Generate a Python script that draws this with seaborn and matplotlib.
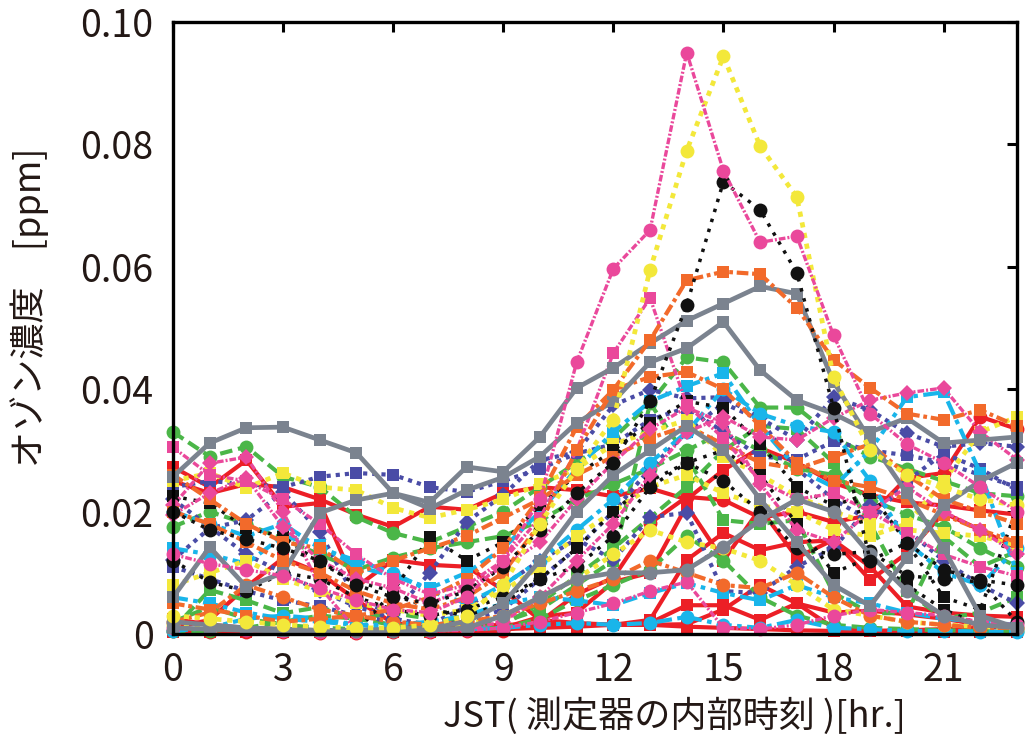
import numpy as np
import matplotlib
matplotlib.use("Agg")
import matplotlib.pyplot as plt
import seaborn as sns

# Hourly ozone readings (ppb) for each day, hour 0..23 JST
HOURS = np.arange(24)

red_sq1 = [27.3, 24.0, 28.4, 20.8, 21.4, 7.7, 12.1, 11.3, 11.0, 7.2, 2.3, 1.8, 1.5, 1.5, 1.2, 1.0, 0.8, 0.6, 0.5, 0.5, 0.6, 0.8, 1.0, 1.2]
red_sq2 = [25.0, 23.0, 24.5, 24.0, 22.0, 19.5, 17.5, 20.8, 20.3, 23.0, 24.0, 23.5, 22.5, 23.8, 22.0, 26.8, 30.4, 28.0, 24.7, 22.7, 21.5, 21.0, 20.2, 19.5]
red_sq3 = [1.0, 2.3, 7.7, 12.4, 10.0, 5.5, 1.8, 1.0, 1.2, 1.5, 1.5, 1.5, 1.5, 2.3, 12.1, 16.5, 13.7, 15.0, 15.3, 11.0, 4.5, 3.5, 3.0, 2.8]
red_ci1 = [0.5, 0.4, 0.3, 0.3, 0.2, 0.2, 0.3, 0.4, 0.5, 0.5, 2.0, 6.5, 9.2, 18.1, 22.4, 21.9, 19.0, 20.0, 18.3, 19.4, 25.5, 26.3, 35.5, 33.5]
red_sq4 = [0.3, 0.3, 0.4, 0.4, 0.3, 0.3, 0.3, 0.3, 1.0, 1.5, 1.5, 1.5, 1.5, 1.8, 4.7, 4.7, 2.3, 5.0, 1.0, 0.5, 0.5, 0.4, 0.3, 0.3]
red_sq5 = [2.5, 1.5, 1.0, 0.8, 0.6, 0.5, 0.5, 0.6, 0.8, 1.0, 2.8, 3.5, 8.5, 10.0, 21.0, 12.0, 20.5, 12.5, 15.4, 8.8, 13.2, 19.8, 17.0, 14.0]
red_sq6 = [0.5, 0.5, 0.5, 0.5, 0.4, 0.4, 0.4, 0.5, 0.6, 0.8, 1.0, 1.2, 1.5, 1.5, 1.6, 4.0, 8.0, 5.0, 3.5, 3.8, 3.2, 2.5, 1.5, 0.8]

grn_ci1 = [33.0, 29.0, 30.6, 25.7, 24.0, 19.1, 16.5, 15.0, 17.5, 20.0, 24.0, 28.0, 32.0, 37.7, 45.2, 44.4, 37.0, 37.0, 32.2, 29.0, 27.0, 25.0, 23.0, 22.5]
grn_ci2 = [17.5, 20.0, 18.0, 15.5, 13.0, 10.5, 12.5, 14.0, 15.0, 16.0, 18.5, 22.0, 24.5, 27.0, 30.0, 33.0, 30.0, 27.0, 26.0, 22.0, 19.5, 17.5, 14.0, 11.0]
grn_sq1 = [0.8, 7.2, 5.5, 3.4, 4.4, 2.5, 3.4, 2.5, 1.8, 2.0, 4.0, 8.0, 12.0, 37.7, 29.0, 18.6, 18.0, 18.6, 6.7, 3.4, 3.4, 15.9, 11.0, 13.5]
grn_sq2 = [2.0, 4.4, 2.5, 1.5, 1.0, 0.8, 0.6, 0.5, 0.8, 1.5, 5.0, 9.5, 14.0, 19.0, 24.0, 30.0, 34.0, 33.5, 28.0, 18.0, 7.0, 2.5, 3.5, 6.0]
grn_ci3 = [0.5, 0.5, 1.0, 2.0, 3.0, 2.5, 1.5, 1.0, 0.8, 1.0, 2.5, 5.5, 8.0, 10.5, 16.0, 12.0, 6.0, 3.0, 1.5, 1.0, 0.8, 0.6, 0.5, 0.5]

blu_sq1 = [24.0, 25.0, 24.5, 24.0, 25.7, 26.3, 26.0, 24.0, 23.2, 25.0, 27.0, 29.5, 31.0, 35.0, 37.0, 33.0, 29.0, 28.5, 31.5, 30.0, 29.2, 28.0, 26.0, 24.0]
blu_di1 = [12.1, 17.3, 18.6, 23.2, 16.7, 5.5, 3.4, 10.0, 18.3, 22.7, 28.4, 29.7, 37.4, 39.9, 38.5, 38.7, 35.3, 31.7, 38.7, 36.6, 32.8, 30.6, 31.2, 30.6]
blu_di2 = [22.0, 17.5, 13.0, 10.0, 7.0, 4.5, 2.5, 1.5, 4.5, 8.0, 12.0, 15.5, 12.1, 19.1, 19.8, 7.0, 6.7, 11.0, 14.0, 21.0, 17.0, 12.0, 8.0, 5.0]
blu_sq2 = [11.0, 9.0, 7.0, 5.5, 4.5, 3.0, 2.0, 1.5, 2.0, 4.0, 9.0, 14.0, 20.0, 27.0, 33.0, 37.7, 35.0, 27.0, 22.0, 18.5, 25.0, 29.5, 27.0, 23.5]

mag_ci1 = [13.0, 11.5, 10.5, 9.5, 7.5, 5.5, 4.0, 3.5, 6.0, 12.0, 22.0, 44.4, 59.7, 66.0, 95.0, 75.7, 64.0, 65.0, 48.8, 36.0, 31.0, 28.0, 24.0, 20.0]
mag_sq1 = [30.5, 26.0, 25.0, 22.0, 18.0, 13.0, 9.0, 6.5, 8.0, 12.0, 19.0, 30.0, 45.9, 54.9, 37.4, 32.0, 25.0, 22.0, 23.0, 20.0, 16.5, 13.0, 11.0, 9.5]
mag_di1 = [21.0, 27.9, 28.9, 20.0, 7.7, 0.6, 0.6, 0.5, 0.8, 2.0, 6.0, 12.0, 18.0, 26.0, 33.0, 35.5, 32.2, 31.7, 35.3, 38.2, 39.4, 40.2, 33.0, 28.5]
mag_di2 = [19.5, 23.0, 25.5, 17.5, 12.0, 9.0, 7.5, 5.0, 7.5, 11.0, 15.0, 22.0, 28.0, 33.5, 37.0, 34.5, 24.5, 17.0, 15.0, 20.0, 24.0, 20.0, 17.0, 13.0]
mag_ci2 = [1.0, 0.8, 0.6, 0.5, 0.4, 0.4, 0.5, 0.5, 0.6, 1.0, 2.0, 3.5, 5.0, 7.0, 8.5, 1.0, 0.8, 1.5, 3.0, 4.0, 3.5, 3.0, 2.0, 1.5]

cya_sq1 = [14.0, 13.0, 11.5, 16.0, 14.5, 11.0, 9.5, 7.5, 10.0, 14.0, 20.0, 27.0, 33.0, 38.0, 40.5, 42.6, 34.0, 27.0, 24.0, 30.0, 38.7, 39.5, 26.3, 10.0]
cya_ci1 = [0.5, 1.0, 2.5, 3.0, 2.5, 1.5, 1.0, 0.8, 0.8, 1.0, 1.5, 1.8, 1.5, 1.8, 2.8, 1.5, 1.0, 2.3, 1.0, 0.8, 0.5, 0.5, 0.4, 0.4]
cya_sq2 = [6.0, 5.0, 3.5, 2.5, 2.0, 1.5, 1.5, 2.0, 3.0, 5.0, 6.0, 5.5, 4.7, 6.7, 8.3, 6.7, 5.5, 8.0, 6.0, 5.0, 3.5, 2.5, 2.0, 1.5]
cya_ci2 = [20.0, 18.0, 16.0, 18.0, 14.0, 12.0, 10.0, 7.0, 5.0, 8.0, 12.0, 17.0, 22.0, 28.0, 33.0, 40.0, 36.0, 34.0, 33.0, 25.0, 15.0, 10.0, 8.0, 14.0]

yel_ci1 = [3.0, 2.5, 2.0, 1.5, 1.2, 1.0, 1.0, 1.5, 3.0, 8.0, 18.0, 27.0, 35.0, 59.5, 79.0, 94.4, 79.7, 71.4, 42.0, 30.0, 26.0, 24.0, 22.0, 21.0]
yel_sq1 = [25.0, 26.3, 23.9, 26.3, 24.0, 23.5, 20.6, 19.0, 20.3, 22.0, 24.5, 27.0, 31.0, 33.0, 35.0, 29.0, 26.0, 22.5, 20.0, 18.0, 17.0, 16.5, 16.0, 14.5]
yel_sq2 = [8.0, 10.0, 12.0, 9.0, 7.0, 5.0, 4.0, 3.0, 4.0, 7.0, 11.0, 16.0, 20.0, 24.0, 26.0, 23.0, 21.0, 20.0, 17.0, 16.0, 18.0, 25.0, 33.0, 35.5]
yel_ci2 = [1.5, 1.0, 0.8, 0.6, 0.5, 0.5, 0.6, 0.8, 1.5, 3.0, 6.0, 9.0, 13.0, 17.0, 15.0, 14.0, 12.0, 8.0, 4.0, 3.0, 2.0, 1.5, 1.2, 1.0]

blk_ci1 = [20.0, 17.0, 15.5, 14.0, 12.0, 8.0, 6.0, 5.0, 7.0, 11.0, 17.0, 23.0, 28.0, 38.0, 53.8, 73.9, 69.3, 59.0, 37.0, 12.0, 14.9, 10.5, 8.8, 8.0]
blk_sq1 = [22.5, 21.4, 17.3, 15.9, 11.6, 8.5, 7.0, 15.9, 12.0, 15.0, 21.0, 26.0, 30.0, 34.5, 38.0, 37.0, 31.0, 24.0, 21.0, 23.0, 14.9, 6.0, 4.0, 20.6]
blk_sq2 = [2.0, 1.5, 1.0, 0.8, 0.6, 0.5, 6.9, 4.0, 3.0, 5.0, 9.0, 14.0, 20.0, 25.0, 28.0, 30.0, 26.0, 18.0, 10.0, 12.5, 8.0, 4.0, 1.5, 1.0]
blk_ci2 = [12.0, 8.5, 7.0, 10.0, 9.0, 6.0, 4.0, 3.0, 4.0, 6.0, 9.0, 11.0, 16.0, 24.0, 28.0, 25.0, 20.0, 14.0, 13.0, 13.5, 9.5, 9.0, 8.5, 2.0]

orn_sq1 = [20.0, 18.0, 15.0, 12.0, 10.0, 7.0, 5.0, 4.0, 6.0, 10.0, 18.0, 30.0, 39.9, 48.0, 57.8, 59.2, 58.8, 53.3, 44.8, 40.2, 36.0, 35.0, 36.6, 34.0]
orn_sq2 = [5.0, 4.0, 3.0, 2.0, 2.5, 3.0, 4.0, 6.0, 9.0, 14.0, 22.4, 33.8, 39.9, 42.0, 42.8, 40.0, 34.0, 28.0, 25.0, 24.0, 22.0, 19.5, 17.0, 15.0]
orn_ci1 = [2.0, 3.5, 8.0, 6.0, 4.0, 3.0, 2.0, 1.5, 2.0, 3.0, 5.0, 7.0, 9.0, 12.0, 10.0, 8.0, 7.5, 10.0, 6.0, 3.0, 2.0, 1.5, 1.0, 1.0]
orn_sq3 = [26.0, 22.0, 18.0, 15.0, 14.0, 10.0, 12.0, 14.0, 16.0, 19.0, 22.0, 26.0, 29.0, 32.0, 34.0, 31.0, 28.0, 27.0, 29.0, 31.0, 26.0, 22.0, 20.0, 18.0]

gry_sq1 = [25.7, 31.2, 33.7, 33.8, 31.7, 29.6, 23.0, 21.5, 27.3, 26.5, 32.2, 40.2, 43.5, 47.5, 51.2, 54.0, 56.8, 55.6, 41.2, 31.7, 23.0, 14.0, 3.0, 1.0]
gry_sq2 = [6.0, 14.2, 7.7, 10.0, 19.8, 21.9, 23.0, 20.5, 23.5, 25.6, 29.0, 34.5, 38.0, 44.4, 46.7, 51.0, 43.1, 38.2, 36.0, 33.0, 35.3, 31.2, 31.7, 32.2]
gry_ci1 = [2.0, 1.5, 1.0, 0.8, 0.6, 0.5, 0.5, 0.6, 1.0, 3.0, 6.0, 9.0, 10.0, 10.0, 10.5, 14.2, 18.6, 22.0, 20.0, 13.0, 7.0, 3.0, 1.5, 1.0]
gry_sq3 = [1.0, 0.8, 0.6, 0.5, 0.5, 0.6, 0.8, 1.0, 2.0, 5.0, 12.0, 20.0, 26.0, 30.0, 34.0, 30.0, 22.0, 15.0, 8.0, 4.6, 12.5, 21.0, 25.0, 28.0]

Y_TICKS = [0.0, 0.02, 0.04, 0.06, 0.08, 0.10]
Y_TICK_LABELS = ["0", "0.02", "0.04", "0.06", "0.08", "0.10"]
X_TICKS = [0, 3, 6, 9, 12, 15, 18, 21]

# line appearance for each colour family
FAMILIES = {
    "red":     dict(color="#ec1f26", ls="-", lw=3.0),
    "green":   dict(color="#4bb648", ls=(0, (3.0, 1.4)), lw=3.0),
    "blue":    dict(color="#4a4ca6", ls=(0, (1.0, 1.2)), lw=3.0),
    "magenta": dict(color="#ea489b", ls=(0, (2.0, 0.6, 0.6, 0.6)), lw=2.4),
    "cyan":    dict(color="#19b5ea", ls=(0, (3.6, 1.3, 1.1, 1.3)), lw=3.0),
    "yellow":  dict(color="#f3e83a", ls=(0, (1.1, 1.2)), lw=3.4),
    "black":   dict(color="#111111", ls=(0, (1.0, 2.0)), lw=2.5),
    "orange":  dict(color="#f26a2b", ls=(0, (2.8, 0.9, 0.9, 0.9)), lw=3.0),
    "gray":    dict(color="#7b838f", ls="-", lw=3.4),
}

SERIES = [
    (red_sq1, "red", "s"), (red_sq2, "red", "s"), (red_sq3, "red", "s"),
    (red_ci1, "red", "o"), (red_sq4, "red", "s"), (red_sq5, "red", "s"), (red_sq6, "red", "s"),
    (grn_ci1, "green", "o"), (grn_ci2, "green", "o"), (grn_sq1, "green", "s"),
    (grn_sq2, "green", "s"), (grn_ci3, "green", "o"),
    (blu_sq1, "blue", "s"), (blu_di1, "blue", "D"), (blu_di2, "blue", "D"), (blu_sq2, "blue", "s"),
    (cya_sq1, "cyan", "s"), (cya_ci1, "cyan", "o"), (cya_sq2, "cyan", "s"), (cya_ci2, "cyan", "o"),
    (yel_sq1, "yellow", "s"), (yel_sq2, "yellow", "s"), (yel_ci2, "yellow", "o"),
    (blk_sq1, "black", "s"), (blk_sq2, "black", "s"), (blk_ci2, "black", "o"),
    (orn_sq2, "orange", "s"), (orn_ci1, "orange", "o"), (orn_sq3, "orange", "s"),
    (mag_sq1, "magenta", "s"), (mag_di1, "magenta", "D"), (mag_di2, "magenta", "D"), (mag_ci2, "magenta", "o"),
    (gry_ci1, "gray", "o"), (gry_sq3, "gray", "s"), (gry_sq2, "gray", "s"), (gry_sq1, "gray", "s"),
    (orn_sq1, "orange", "s"), (blk_ci1, "black", "o"), (yel_ci1, "yellow", "o"), (mag_ci1, "magenta", "o"),
]

MARKER_SIZE = {"o": 10.0, "s": 9.0, "D": 8.5}
TEXT_COLOR = "#231815"

sns.set_theme(style="white")
plt.rcParams["font.family"] = ["Noto Sans CJK JP", "DejaVu Sans"]

fig = plt.figure(figsize=(10.25, 7.45), dpi=100)
ax = fig.add_axes([173 / 1025, 1 - 634 / 745, (1017 - 173) / 1025, (634 - 22) / 745])

for values, family, marker in SERIES:
    st = FAMILIES[family]
    sns.lineplot(
        x=HOURS, y=np.asarray(values) / 1000.0, ax=ax,
        color=st["color"], linestyle=st["ls"], linewidth=st["lw"],
        marker=marker, markersize=MARKER_SIZE[marker], markeredgewidth=0,
        legend=False, clip_on=False,
    )

ax.set_xlim(0, 23)
ax.set_ylim(0, 0.10)
ax.set_xticks(X_TICKS)
ax.set_xticklabels([str(t) for t in X_TICKS])
ax.set_yticks(Y_TICKS)
ax.set_yticklabels(Y_TICK_LABELS)

for side in ["left", "right", "top", "bottom"]:
    ax.spines[side].set_visible(True)
    ax.spines[side].set_color("black")
    ax.spines[side].set_linewidth(2.4)
    ax.spines[side].set_zorder(5)

ax.tick_params(axis="both", which="major", direction="in", length=7, width=2.2,
               top=True, right=True, labelsize=27, labelcolor=TEXT_COLOR, color="black")
ax.tick_params(axis="y", pad=14)
ax.tick_params(axis="x", pad=12)

ax.set_xlabel("JST( 測定器の内部時刻 )[hr.]", fontsize=26, color=TEXT_COLOR)
ax.set_ylabel("オゾン濃度　[ppm]", fontsize=26, color=TEXT_COLOR)
ax.xaxis.set_label_coords(0.594, -0.103)
ax.yaxis.set_label_coords(-0.147, 0.533)

fig.savefig("out.png", dpi=100)
